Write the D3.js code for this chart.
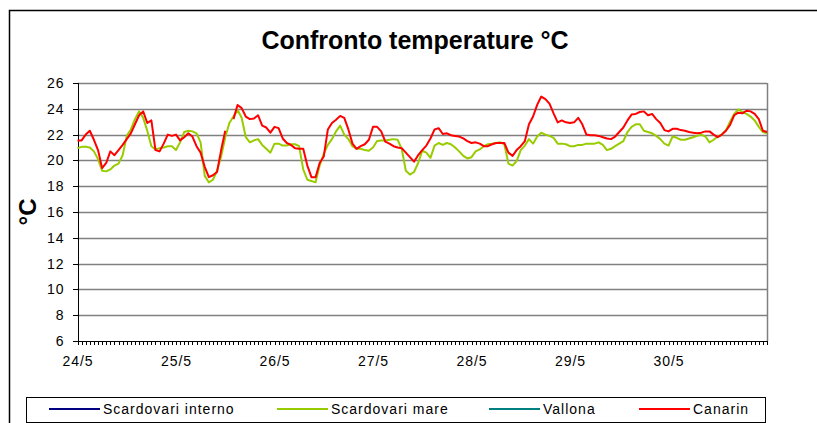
<!DOCTYPE html>
<html>
<head>
<meta charset="utf-8">
<script src="https://cdn.jsdelivr.net/npm/d3@7"></script>
<style>
  body { margin: 0; background: #fff; }
  svg { display: block; font-family: "Liberation Sans", Arial, sans-serif; }
  .axis path, .axis line { stroke: #000; shape-rendering: crispEdges; }
  .axis text { font-size: 14px; fill: #000; letter-spacing: 1px; }
</style>
</head>
<body>
<div id="chartDiv"></div>
<script>
// etichette dei giorni (ogni 24 ore)
const dayLabels = ["24/5", "25/5", "26/5", "27/5", "28/5", "29/5", "30/5"];
const yTicks = [6, 8, 10, 12, 14, 16, 18, 20, 22, 24, 26];

// serie, una lettura ogni ora a partire dal 24/5 00:00
const seriesNames = ["Scardovari interno", "Scardovari mare", "Vallona", "Canarin"];
const seriesColors = ["#000080", "#99cc00", "#008080", "#ff0000"];

const scardovariInterno = [];
const vallona = [];

const scardovariMare = [
  20.95, 21.05, 21.05, 21.0, 20.7, 20.1, 19.2, 19.15, 19.3, 19.6, 19.75, 20.4,
  21.9, 22.4, 23.2, 23.8, 23.3, 22.3, 21.1, 20.85, 20.95, 21.0, 21.1, 21.1,
  20.8, 21.4, 22.2, 22.3, 22.25, 22.1, 21.4, 18.8, 18.3, 18.5, 19.2, 20.3,
  21.8, 22.9, 23.4, 23.9, 23.3, 21.8, 21.4, 21.55, 21.65, 21.2, 20.9, 20.6,
  21.3, 21.3, 21.15, 21.15, 21.25, 21.25, 21.1, 19.3, 18.5, 18.4, 18.3, 19.6,
  20.5, 21.2, 21.65, 22.25, 22.7, 22.0, 21.65, 21.1, 20.9, 20.9, 20.8, 20.75,
  21.0, 21.5, 21.55, 21.55, 21.6, 21.65, 21.6, 20.9, 19.2, 18.9, 19.1, 19.8,
  20.75, 20.6, 20.2, 21.15, 21.35, 21.2, 21.35, 21.25, 21.0, 20.7, 20.35, 20.15,
  20.25, 20.7, 20.85, 21.1, 21.25, 21.3, 21.35, 21.4, 21.25, 19.75, 19.6, 19.95,
  20.8, 21.15, 21.65, 21.3, 21.85, 22.15, 22.0, 21.9, 21.75, 21.3, 21.3, 21.25,
  21.1, 21.1, 21.2, 21.2, 21.3, 21.3, 21.3, 21.4, 21.2, 20.8, 20.9, 21.1,
  21.3, 21.5, 22.2, 22.6, 22.8, 22.8, 22.3, 22.2, 22.1, 21.9, 21.65, 21.3,
  21.15, 21.85, 21.75, 21.6, 21.6, 21.7, 21.8, 21.9, 22.0, 21.85, 21.4, 21.6,
  21.85, 22.0, 22.35, 23.0, 23.6, 23.95, 23.75, 23.6, 23.4, 23.1, 22.6, 22.2,
  22.1
];

const canarin = [
  21.55, 21.55, 22.0, 22.3, 21.6, 20.8, 19.4, 19.8, 20.7, 20.4, 20.8, 21.2,
  21.65, 22.1, 22.8, 23.5, 23.8, 22.9, 23.1, 20.8, 20.7, 21.3, 22.0, 21.9,
  22.0, 21.55, 21.8, 22.1, 21.85, 21.1, 20.6, 19.5, 18.7, 18.85, 19.1, 20.8,
  22.3, null, 23.2, 24.3, 24.05, 23.4, 23.2, 23.25, 23.5, 22.7, 22.55, 22.15,
  22.6, 22.5, 21.7, 21.35, 21.2, 20.95, 20.9, 20.9, 19.6, 18.7, 18.7, 19.8,
  20.3, 22.4, 22.9, 23.15, 23.45, 23.3, 22.4, 21.3, 20.9, 21.1, 21.25, 21.6,
  22.6, 22.6, 22.25, 21.45, 21.3, 21.1, 21.0, 20.95, 20.6, 20.25, 19.9, 20.4,
  20.8, 21.15, 21.7, 22.4, 22.5, 22.05, 22.1, 21.95, 21.9, 21.85, 21.7, 21.5,
  21.35, 21.4, 21.3, 21.1, 21.1, 21.25, 21.35, 21.35, 21.35, 20.6, 20.35, 20.8,
  21.1, 21.5, 22.8, 23.4, 24.3, 24.95, 24.75, 24.4, 23.65, 22.95, 23.1, 22.95,
  22.9, 22.95, 23.3, 22.8, 22.0, 21.95, 21.95, 21.9, 21.8, 21.7, 21.65, 21.85,
  22.2, 22.55, 23.1, 23.55, 23.6, 23.75, 23.8, 23.5, 23.6, 23.2, 22.9, 22.35,
  22.25, 22.45, 22.45, 22.35, 22.3, 22.2, 22.15, 22.1, 22.15, 22.25, 22.25, 22.0,
  21.8, 22.0, 22.3, 22.75, 23.5, 23.7, 23.65, 23.85, 23.8, 23.6, 23.2, 22.3,
  22.2
];

const allSeries = [scardovariInterno, scardovariMare, vallona, canarin];
const totalHours = 168;

const width = 817, height = 423;
const margin = { top: 83, right: 50, bottom: 82, left: 77.5 };

const svg = d3.select("#chartDiv").append("svg")
  .attr("width", width)
  .attr("height", height);

// cornice esterna (solo lati sinistro e superiore visibili)
svg.append("path")
  .attr("d", `M9.5,${height + 2} V10.5 H${width + 2}`)
  .attr("fill", "none")
  .attr("stroke", "#000")
  .attr("stroke-width", 1.5);

svg.append("text")
  .attr("x", 415)
  .attr("y", 49)
  .attr("text-anchor", "middle")
  .style("font-size", "25px")
  .style("font-weight", "bold")
  .text("Confronto temperature °C");

const x = d3.scaleLinear()
  .domain([0, totalHours])
  .range([margin.left, width - margin.right]);

const y = d3.scaleLinear()
  .domain([6, 26])
  .range([height - margin.bottom, margin.top]);

// griglia
svg.append("g")
  .selectAll("line")
  .data(yTicks.filter(d => d > 6))
  .enter()
  .append("line")
  .attr("x1", x(0))
  .attr("x2", x(totalHours))
  .attr("y1", d => Math.round(y(d)) + 0.5)
  .attr("y2", d => Math.round(y(d)) + 0.5)
  .attr("stroke", "#808080")
  .attr("stroke-width", 1.5);

svg.append("line")
  .attr("x1", x(totalHours) + 0.5)
  .attr("x2", x(totalHours) + 0.5)
  .attr("y1", y(26))
  .attr("y2", y(6))
  .attr("stroke", "#808080")
  .attr("stroke-width", 1.5);

let yAxis = d3.axisLeft(y)
  .tickValues(yTicks)
  .tickSize(5)
  .tickPadding(8)
  .tickFormat(d3.format("d"));

svg.append("g")
  .attr("class", "axis")
  .attr("transform", `translate(${x(0)},0)`)
  .call(yAxis);

let hourTicks = d3.range(0, totalHours + 1);
let xAxis = d3.axisBottom(x)
  .tickValues(hourTicks)
  .tickSize(4)
  .tickSizeOuter(0)
  .tickPadding(11)
  .tickFormat(h => (h % 24 === 0 && h / 24 < dayLabels.length) ? dayLabels[h / 24] : "");

svg.append("g")
  .attr("class", "axis")
  .attr("transform", `translate(0,${y(6)})`)
  .call(xAxis);

svg.append("text")
  .attr("transform", `translate(36,${(y(6) + y(26)) / 2}) rotate(-90)`)
  .attr("text-anchor", "middle")
  .style("font-size", "24px")
  .style("font-weight", "bold")
  .text("°C");

// linee delle serie
const line = d3.line()
  .defined(d => d != null)
  .x((d, i) => x(i))
  .y(d => y(d));

svg.append("g")
  .selectAll("path")
  .data(allSeries)
  .enter()
  .append("path")
  .attr("fill", "none")
  .attr("stroke", (d, i) => seriesColors[i])
  .attr("stroke-width", 2)
  .attr("stroke-linejoin", "round")
  .attr("d", d => line(d));

// legenda
const legend = svg.append("g");
legend.append("rect")
  .attr("x", 26.5)
  .attr("y", 397.5)
  .attr("width", 739)
  .attr("height", 25)
  .attr("fill", "#fff")
  .attr("stroke", "#000");

const legendX = [49, 277, 489, 639];
const items = legend.selectAll("g.item")
  .data(seriesNames)
  .enter()
  .append("g")
  .attr("transform", (d, i) => `translate(${legendX[i]},409)`);

items.append("line")
  .attr("x1", 0)
  .attr("x2", 51)
  .attr("stroke", (d, i) => seriesColors[i])
  .attr("stroke-width", 2);

items.append("text")
  .attr("x", 54)
  .attr("dy", "0.35em")
  .style("font-size", "14px")
  .style("letter-spacing", "1px")
  .text(d => d);
</script>
</body>
</html>
